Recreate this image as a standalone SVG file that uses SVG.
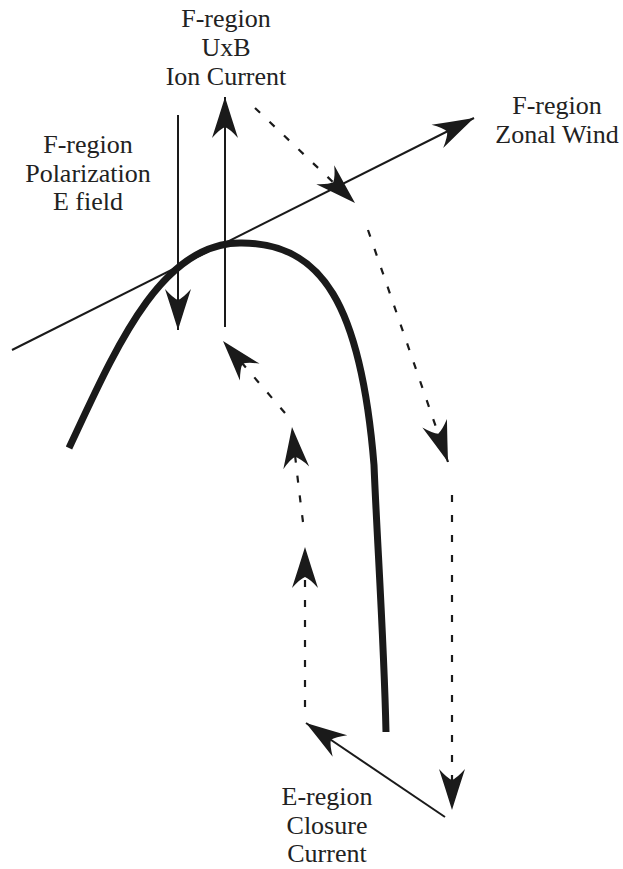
<svg xmlns="http://www.w3.org/2000/svg" width="623" height="869" viewBox="0 0 623 869">
<style>
  .lbl { font-family: "Liberation Serif", "Times New Roman", serif; font-size: 26px; fill: #222; text-anchor: middle; }
  .solid { fill: none; stroke: #1a1a1a; stroke-width: 2; }
  .dash { fill: none; stroke: #1a1a1a; stroke-width: 2.2; stroke-dasharray: 7 13; }
  .thick { fill: none; stroke: #1a1a1a; stroke-width: 7; stroke-linecap: butt; }
</style>
<defs>
  <marker id="ah" viewBox="-44 -15 46 30" refX="0" refY="0" markerWidth="46" markerHeight="30" markerUnits="userSpaceOnUse" orient="auto">
    <path d="M0,0 Q-21,-6.5 -41,-13 Q-32,-5 -30,0 Q-32,5 -41,13 Q-21,6.5 0,0 Z" fill="#1a1a1a" stroke="none"/>
  </marker>
</defs>
<rect width="623" height="869" fill="#ffffff"/>

<g id="field-line">
  <path class="thick" d="M69,448 C115,350 160,243 240,243 C322,242 361,305 374,465 C377,540 384,640 386,732"/>
</g>

<g id="label-uxb">
  <text class="lbl" x="226" y="27">F-region</text>
  <text class="lbl" x="226" y="56">UxB</text>
  <text class="lbl" x="226" y="85">Ion Current</text>
</g>
<g id="label-polarization">
  <text class="lbl" x="88" y="153">F-region</text>
  <text class="lbl" x="88" y="182">Polarization</text>
  <text class="lbl" x="88" y="210">E field</text>
</g>
<g id="label-wind">
  <text class="lbl" x="557" y="114">F-region</text>
  <text class="lbl" x="557" y="143">Zonal Wind</text>
</g>
<g id="label-closure">
  <text class="lbl" x="327" y="805">E-region</text>
  <text class="lbl" x="327" y="834">Closure</text>
  <text class="lbl" x="327" y="862">Current</text>
</g>

<g id="connectors">
  <line class="solid" x1="12" y1="350" x2="474" y2="118" marker-end="url(#ah)"/>
  <line class="solid" x1="178" y1="115" x2="178" y2="330" marker-end="url(#ah)"/>
  <line class="solid" x1="225" y1="327" x2="225" y2="97" marker-end="url(#ah)"/>
  <line class="solid" x1="445" y1="817" x2="306" y2="723" marker-end="url(#ah)"/>
  <line class="dash" x1="255" y1="108" x2="355" y2="203" marker-end="url(#ah)"/>
  <line class="dash" x1="368" y1="230" x2="448" y2="462" marker-end="url(#ah)"/>
  <line class="dash" x1="452" y1="495" x2="452" y2="810" marker-end="url(#ah)"/>
  <line class="dash" x1="305" y1="707" x2="305" y2="547" marker-end="url(#ah)"/>
  <path class="dash" d="M303,522 Q297,475 292,427" marker-end="url(#ah)"/>
  <line class="dash" x1="285" y1="413" x2="223" y2="341" marker-end="url(#ah)"/>
</g>
</svg>
